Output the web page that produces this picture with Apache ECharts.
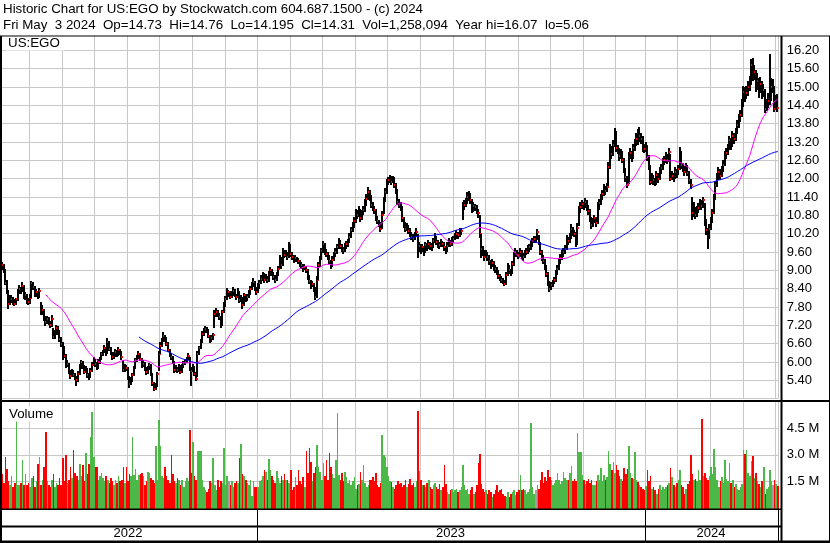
<!DOCTYPE html>
<html><head><meta charset="utf-8">
<script src="https://cdn.jsdelivr.net/npm/echarts@6/dist/echarts.min.js"></script>
<style>html,body{margin:0;padding:0;background:#fff}#c{width:830px;height:543px}</style>
</head><body><div id="c"></div>
<script>
// ---- data ----
const closes = [
9.20,9.16,9.00,8.60,8.34,7.90,8.02,8.07,7.96,7.90,
8.05,8.31,8.40,8.34,8.50,8.12,8.18,8.00,7.95,8.10,
8.58,8.45,8.20,8.28,8.15,8.31,7.61,7.70,7.45,7.31,
7.40,7.31,7.20,7.42,6.82,6.95,7.12,7.00,6.75,6.60,
6.49,6.20,5.89,5.95,5.70,5.53,5.68,5.58,5.50,5.40,
5.62,5.83,6.00,5.85,5.69,5.75,5.57,5.53,5.72,5.90,
6.06,5.95,5.83,6.00,6.12,6.25,6.33,6.45,6.28,6.65,
6.44,6.30,6.16,6.22,6.33,6.25,6.39,6.30,6.16,5.73,
5.85,5.80,5.50,5.27,5.40,5.57,5.80,6.05,6.16,6.27,
6.10,5.89,5.95,5.78,5.67,5.80,5.89,5.60,5.30,5.13,
5.20,5.60,6.27,6.54,6.71,6.85,6.77,6.60,6.40,6.26,
6.15,6.00,5.73,5.80,5.73,5.85,5.68,5.84,5.95,6.00,
6.10,6.20,5.78,5.70,5.85,5.62,5.45,6.27,6.45,6.65,
6.93,7.00,7.09,7.04,6.85,6.70,6.77,6.87,7.58,7.64,
7.55,7.47,7.20,7.64,7.85,8.07,8.29,8.29,8.13,8.20,
8.34,8.20,8.13,8.29,8.02,8.10,7.85,8.18,8.05,8.13,
8.25,8.40,8.55,8.62,8.40,8.29,8.45,8.60,8.73,8.84,
8.70,8.78,8.67,8.85,9.00,8.92,8.78,8.70,8.84,9.05,
9.38,9.16,9.60,9.49,9.55,9.44,9.80,9.55,9.45,9.33,
9.40,9.38,9.30,9.22,9.16,9.05,9.10,9.00,8.80,8.65,
8.50,8.55,8.40,8.13,8.70,9.16,9.38,9.63,9.87,9.60,
9.55,9.44,9.30,9.16,9.35,9.50,9.60,9.75,9.93,9.80,
9.71,9.65,9.77,9.85,9.93,10.10,10.31,10.47,10.60,10.86,
10.80,10.97,10.70,10.85,10.97,11.20,11.35,11.56,11.40,11.15,
11.05,10.97,10.70,10.60,10.53,10.36,10.80,11.29,11.56,11.84,
11.95,12.05,11.90,12.00,11.80,11.62,11.24,11.15,11.07,10.70,
10.50,10.36,10.42,10.30,10.20,10.10,10.04,10.15,10.25,9.65,
9.80,9.65,9.75,9.60,9.82,9.75,9.87,9.80,9.77,9.95,
10.09,9.93,9.85,9.82,9.90,9.87,9.75,9.65,9.80,9.93,
9.85,9.98,10.04,10.10,10.20,10.15,10.25,10.30,11.07,11.15,
11.24,11.40,11.46,11.30,10.97,11.10,11.07,10.95,10.86,10.20,
9.71,9.60,9.44,9.55,9.44,9.30,9.16,9.25,9.11,9.05,
8.95,8.83,8.78,8.70,8.62,8.56,8.85,9.11,9.00,8.92,
9.20,9.49,9.60,9.55,9.49,9.60,9.50,9.44,9.55,9.60,
9.71,9.75,9.82,9.95,10.04,10.04,10.25,9.90,9.60,9.44,
9.30,9.11,8.89,8.60,8.40,8.51,8.60,8.67,8.90,9.05,
9.27,9.40,9.55,9.60,9.71,10.04,9.95,10.09,10.36,10.25,
10.20,9.87,10.40,10.95,11.07,11.18,11.10,11.24,11.05,10.95,
10.70,10.47,10.60,10.70,10.55,11.07,11.20,11.35,11.50,11.67,
11.60,11.73,12.38,12.98,12.80,13.10,13.53,13.00,12.95,12.73,
12.85,12.62,12.30,12.05,11.78,12.73,12.84,12.70,13.00,13.15,
13.31,13.26,13.40,13.30,13.00,12.98,13.05,12.71,12.40,11.90,
12.05,11.95,11.85,12.11,12.00,12.22,12.35,12.54,12.60,12.71,
12.60,12.87,12.00,12.10,12.05,12.22,12.16,12.30,12.87,12.44,
12.35,12.22,12.38,12.20,11.95,11.78,10.86,11.00,10.80,10.97,
11.05,11.18,11.10,11.29,10.58,10.31,10.09,10.36,10.60,10.86,
11.35,11.78,12.05,12.22,12.10,12.27,12.45,12.76,12.85,13.00,
13.25,13.10,13.40,13.30,13.50,13.75,13.96,14.07,14.40,14.84,
14.70,14.80,15.00,15.11,15.71,15.33,15.50,15.00,15.20,14.89,
15.10,14.76,14.89,14.29,14.40,14.55,14.60,15.00,15.00,14.29,
14.40,14.31];
const highs = [
9.30,9.28,9.20,9.05,8.70,8.37,8.20,8.19,8.13,8.06,
8.11,8.39,8.52,8.45,8.62,8.53,8.28,8.23,8.08,8.22,
8.65,8.62,8.50,8.40,8.32,8.41,7.98,7.85,7.75,7.51,
7.50,7.46,7.35,7.54,7.10,7.05,7.22,7.17,7.04,6.81,
6.65,6.53,6.25,6.07,5.98,5.75,5.78,5.73,5.64,5.54,
5.70,5.93,6.08,6.04,5.90,5.87,5.79,5.63,5.80,6.00,
6.16,6.11,5.99,6.10,6.18,6.33,6.40,6.55,6.50,6.80,
6.69,6.49,6.34,6.32,6.41,6.38,6.49,6.43,6.35,6.05,
5.95,5.90,5.83,5.54,5.50,5.65,5.86,6.13,6.24,6.35,
6.31,6.14,6.05,5.99,5.83,5.88,5.96,5.92,5.64,5.36,
5.30,5.68,6.35,6.64,6.79,6.97,6.90,6.81,6.65,6.44,
6.31,6.19,6.03,5.90,5.84,5.93,5.89,5.92,6.03,6.10,
6.18,6.30,6.15,5.83,5.93,5.88,5.66,6.35,6.53,6.75,
7.01,7.10,7.17,7.14,7.08,6.90,6.87,6.95,7.70,7.76,
7.69,7.59,7.50,7.70,7.95,8.17,8.41,8.37,8.33,8.32,
8.44,8.39,8.24,8.41,8.32,8.20,8.13,8.26,8.23,8.23,
8.35,8.50,8.63,8.74,8.66,8.45,8.57,8.70,8.85,8.96,
8.90,8.88,8.83,8.97,9.12,9.05,8.96,8.84,8.94,9.15,
9.50,9.43,9.72,9.65,9.65,9.60,9.93,9.85,9.60,9.49,
9.50,9.45,9.42,9.35,9.28,9.20,9.22,9.14,9.04,8.85,
8.69,8.65,8.59,8.44,8.80,9.26,9.48,9.73,9.97,9.91,
9.70,9.60,9.50,9.34,9.47,9.60,9.72,9.87,10.05,9.98,
9.86,9.76,9.89,9.95,10.03,10.22,10.43,10.59,10.75,11.00,
10.96,11.10,11.02,10.97,11.09,11.32,11.50,11.72,11.64,11.45,
11.23,11.11,11.02,10.78,10.66,10.58,10.95,11.41,11.71,11.99,
12.07,12.12,12.10,12.10,12.05,11.85,11.67,11.34,11.23,11.12,
10.76,10.58,10.54,10.48,10.38,10.26,10.18,10.27,10.37,10.20,
9.92,9.86,9.87,9.80,9.94,9.88,9.99,9.93,9.88,10.07,
10.21,10.14,9.99,9.93,10.02,9.96,9.92,9.81,9.92,10.05,
9.99,10.10,10.14,10.22,10.32,10.26,10.37,10.40,11.22,11.30,
11.36,11.55,11.58,11.52,11.35,11.22,11.18,11.13,11.01,10.80,
10.20,9.79,9.65,9.67,9.60,9.49,9.35,9.37,9.30,9.17,
9.11,9.00,8.89,8.83,8.76,8.67,8.95,9.23,9.16,9.06,
9.30,9.61,9.72,9.65,9.61,9.72,9.65,9.56,9.65,9.72,
9.83,9.85,9.97,10.07,10.14,10.12,10.35,10.15,9.94,9.65,
9.49,9.36,9.16,8.95,8.65,8.63,8.70,8.77,9.02,9.17,
9.37,9.52,9.67,9.72,9.83,10.16,10.10,10.21,10.50,10.42,
10.33,10.25,10.55,11.10,11.22,11.30,11.24,11.38,11.30,11.13,
11.00,10.76,10.72,10.82,10.76,11.22,11.32,11.49,11.64,11.81,
11.75,11.87,12.53,13.13,13.06,13.25,13.65,13.55,13.10,13.01,
12.97,12.90,12.68,12.35,12.10,12.88,12.99,12.90,13.15,13.30,
13.51,13.61,13.70,13.50,13.38,13.12,13.20,13.10,12.76,12.45,
12.20,12.13,12.03,12.26,12.19,12.37,12.47,12.69,12.75,12.86,
12.81,12.99,12.80,12.25,12.18,12.37,12.32,12.44,13.02,12.92,
12.52,12.41,12.50,12.44,12.25,12.00,11.40,11.25,11.08,11.12,
11.20,11.32,11.30,11.41,11.20,10.68,10.39,10.51,10.75,11.01,
11.50,11.93,12.20,12.37,12.30,12.42,12.60,12.91,13.00,13.15,
13.40,13.33,13.55,13.50,13.65,13.93,14.11,14.25,14.60,15.04,
14.99,15.02,15.20,15.36,15.91,15.95,15.72,15.55,15.45,15.28,
15.32,15.18,15.09,14.94,14.60,14.80,16.07,15.30,15.25,15.02,
14.75,14.76];
const lows = [
9.08,9.02,8.90,8.52,8.22,7.75,7.85,7.92,7.88,7.82,
7.85,8.01,8.22,8.24,8.29,8.05,8.04,7.90,7.86,7.91,
8.08,8.35,8.12,8.14,8.05,8.10,7.55,7.55,7.35,7.19,
7.26,7.22,7.10,7.16,6.75,6.75,6.90,6.90,6.67,6.50,
6.05,6.12,5.79,5.83,5.62,5.43,5.50,5.50,5.40,5.22,
5.35,5.58,5.77,5.77,5.60,5.64,5.47,5.41,5.49,5.67,
5.86,5.85,5.75,5.78,5.95,6.08,6.19,6.28,6.20,6.25,
6.36,6.22,6.07,6.11,6.18,6.17,6.21,6.22,6.06,5.68,
5.68,5.72,5.42,5.15,5.24,5.35,5.53,5.77,6.00,6.10,
6.03,5.81,5.84,5.70,5.58,5.62,5.75,5.54,5.22,5.06,
5.10,5.18,5.70,6.25,6.48,6.66,6.67,6.52,6.32,6.16,
6.07,5.92,5.65,5.68,5.64,5.69,5.60,5.64,5.79,5.89,
5.96,6.05,5.70,5.23,5.66,5.54,5.37,5.50,6.22,6.41,
6.63,6.85,6.94,6.94,6.77,6.62,6.66,6.73,7.10,7.48,
7.47,7.39,7.12,7.17,7.60,7.81,8.02,8.14,8.05,8.08,
8.16,8.12,8.04,8.09,7.94,7.97,7.75,7.82,7.96,8.01,
8.08,8.20,8.35,8.47,8.32,8.19,8.25,8.40,8.55,8.65,
8.60,8.65,8.57,8.63,8.80,8.82,8.68,8.60,8.66,8.80,
9.03,9.06,9.14,9.39,9.44,9.34,9.42,9.45,9.35,9.23,
9.28,9.28,9.20,9.12,9.06,8.95,9.00,8.90,8.70,8.55,
8.40,8.45,8.30,8.02,8.10,8.68,9.11,9.34,9.58,9.50,
9.45,9.34,9.20,9.04,9.12,9.30,9.45,9.55,9.70,9.70,
9.61,9.53,9.60,9.71,9.77,9.88,10.05,10.25,10.39,10.55,
10.68,10.74,10.58,10.65,10.80,10.92,11.12,11.30,11.28,11.03,
10.93,10.85,10.60,10.50,10.41,10.26,10.34,10.85,11.24,11.51,
11.78,11.85,11.78,11.85,11.68,11.50,11.14,11.03,10.93,10.58,
10.38,10.26,10.30,10.20,10.10,10.00,9.92,9.99,10.10,9.40,
9.60,9.55,9.60,9.48,9.56,9.63,9.69,9.68,9.63,9.72,
9.90,9.83,9.73,9.70,9.76,9.75,9.63,9.52,9.60,9.75,
9.75,9.80,9.90,9.98,10.04,10.03,10.09,10.17,10.65,10.97,
11.07,11.18,11.28,11.18,10.87,10.91,10.93,10.83,10.72,10.05,
9.40,9.48,9.32,9.39,9.32,9.18,9.04,9.11,8.99,8.91,
8.85,8.73,8.66,8.60,8.54,8.48,8.52,8.80,8.88,8.80,
8.88,9.15,9.43,9.43,9.37,9.44,9.38,9.32,9.39,9.49,
9.55,9.61,9.67,9.77,9.89,9.90,10.00,9.82,9.50,9.32,
9.20,9.01,8.79,8.50,8.29,8.35,8.45,8.54,8.62,8.84,
9.00,9.22,9.34,9.45,9.54,9.66,9.83,9.90,10.03,10.13,
10.08,9.75,9.84,10.45,10.87,11.01,10.96,11.05,10.93,10.81,
10.58,10.35,10.42,10.54,10.43,10.53,10.99,11.15,11.29,11.44,
11.48,11.55,11.75,12.33,12.65,12.75,13.05,12.88,12.80,12.58,
12.65,12.50,12.18,11.90,11.68,11.83,12.63,12.55,12.65,12.90,
13.07,13.11,13.21,13.12,12.88,12.83,12.88,12.59,12.28,11.78,
11.82,11.80,11.75,11.80,11.85,11.94,12.14,12.29,12.44,12.52,
12.48,12.55,11.92,11.94,11.90,12.00,12.02,12.11,12.27,12.32,
12.23,12.10,12.17,12.08,11.83,11.66,10.66,10.76,10.68,10.75,
10.89,10.99,10.98,11.05,10.46,10.16,9.71,10.04,10.31,10.54,
10.84,11.30,11.72,11.97,11.95,12.05,12.21,12.40,12.64,12.79,
12.95,12.95,13.04,13.12,13.24,13.45,13.67,13.86,14.02,14.35,
14.50,14.60,14.72,14.88,15.06,15.18,15.23,14.82,14.90,14.64,
14.79,14.61,14.68,14.14,14.21,14.30,14.40,14.55,14.80,14.19,
14.24,14.195];
// daily volume, millions of shares
const volumeM = [
2.3,1.9,1.4,2.9,2.2,1.5,1.3,1.8,1.2,1.4,
4.9,1.3,1.3,1.4,2.7,1.3,1.9,1.3,1.4,1.2,
1.7,1.8,1.2,1.5,2.5,2.9,1.3,1.6,2.3,4.3,
1.5,1.3,1.2,1.6,1.9,1.2,1.4,1.3,1.7,1.3,
2.8,1.5,3.0,1.4,1.6,2.3,1.7,3.3,2.0,1.8,
1.6,2.5,1.8,2.4,1.5,3.1,1.9,2.5,4.0,5.4,
2.9,2.3,2.3,1.6,1.8,2.0,1.7,1.5,1.8,1.6,
1.4,1.7,1.5,1.3,1.6,1.4,1.8,1.5,1.6,2.3,
1.4,2.3,1.5,1.9,1.8,4.0,1.85,2.2,1.6,1.85,
1.9,2.0,1.8,1.3,1.5,2.05,2.0,1.7,1.6,1.4,
3.5,1.6,4.95,3.5,1.8,1.7,2.3,1.8,1.6,1.4,
3.0,1.9,1.5,1.4,1.7,1.6,1.3,1.6,1.2,1.5,
1.7,1.5,4.4,2.0,3.7,1.8,1.6,3.2,3.2,3.2,
1.6,1.2,1.0,0.9,1.1,1.5,1.4,2.8,1.3,1.0,
1.6,1.2,1.5,1.4,3.4,1.3,1.8,1.5,1.3,1.5,
1.2,1.4,1.5,1.4,2.8,3.6,1.9,1.8,1.6,1.4,
1.3,1.6,0.7,1.5,1.2,1.2,1.2,1.5,1.6,1.8,
2.14,2.05,1.6,2.77,2.14,1.8,1.6,1.4,2.1,1.7,
1.4,1.8,1.6,1.9,1.6,1.57,1.4,2.14,1.0,1.2,
1.76,1.3,2.14,1.5,1.38,1.76,1.2,3.19,2.0,3.38,
2.62,1.5,2.0,2.3,3.58,2.33,2.05,1.57,2.52,1.8,
2.72,1.6,3.1,2.33,1.9,1.7,2.72,5.35,1.85,1.6,
1.95,1.5,2.05,1.76,1.4,1.57,1.28,1.5,1.76,1.09,
1.3,1.38,2.05,1.6,2.43,1.4,1.19,1.3,1.57,1.6,
1.76,1.5,1.95,1.3,1.19,1.4,4.1,3.0,2.9,2.33,
1.8,1.5,1.47,1.2,1.09,1.3,1.5,1.38,1.4,1.19,
1.3,1.57,1.2,1.38,1.66,1.3,1.4,1.2,1.5,5.5,
2.1,1.6,1.28,1.3,1.19,1.4,1.57,1.2,1.09,1.28,
1.4,1.19,1.1,1.38,1.0,1.19,2.43,1.38,0.9,0.8,
1.0,1.09,0.9,0.99,1.1,0.9,1.0,1.2,2.41,1.3,
0.99,1.1,0.8,0.99,1.2,0.8,0.9,1.3,2.56,3.06,
1.38,1.1,0.9,1.0,0.8,0.99,0.9,0.61,0.8,0.99,
1.28,0.9,0.99,1.1,0.8,0.7,0.61,0.9,0.61,0.8,
0.9,1.0,0.71,0.9,1.0,1.85,0.99,1.09,1.0,0.8,
0.9,1.1,4.78,1.2,0.8,0.99,1.3,1.1,1.57,2.05,
1.4,1.76,1.5,2.14,1.76,1.6,1.28,1.4,1.57,1.95,
1.6,1.38,1.5,2.05,1.7,1.57,1.6,1.95,2.37,1.5,
1.66,1.5,4.21,3.14,3.14,1.85,1.6,1.38,1.5,1.66,
1.4,1.57,1.3,1.28,1.5,1.85,1.6,2.24,1.5,1.85,
1.6,1.76,3.23,2.5,2.14,2.62,2.0,2.43,2.14,1.8,
1.66,1.5,2.24,1.9,2.2,3.52,1.95,1.7,1.66,3.14,
1.6,1.47,1.3,1.19,1.1,0.99,1.22,2.14,1.5,1.8,
1.09,1.2,0.99,0.8,1.1,1.28,1.0,1.19,1.1,1.19,
1.28,1.4,2.24,1.76,1.3,1.19,1.4,1.57,2.14,1.3,
1.19,0.8,1.1,1.38,1.5,3.0,1.9,1.57,1.66,1.5,
2.14,1.6,5.0,1.8,1.95,1.7,1.57,1.8,2.33,1.9,
3.33,2.33,1.6,1.19,1.5,1.76,1.4,2.72,1.66,1.5,
2.52,1.4,1.57,1.2,1.38,1.1,0.99,1.2,1.38,3.25,
3.06,3.29,2.0,1.8,2.68,2.91,1.7,1.95,1.5,1.38,
1.2,1.5,2.33,0.8,1.1,1.19,2.14,1.5,1.28,1.6,
1.38,1.26];
const firstDay = '2022-05-05', lastDay = '2024-05-03';
const holidays = ['2022-05-30','2022-06-20','2022-07-04','2022-09-05','2022-11-24','2022-12-26',
 '2023-01-02','2023-01-16','2023-02-20','2023-04-07','2023-05-29','2023-06-19','2023-07-04',
 '2023-09-04','2023-11-23','2023-12-25','2024-01-01','2024-01-15','2024-02-19','2024-03-29'];
const maShort = 30, maLong = 90;
const title1 = 'Historic Chart for US:EGO by Stockwatch.com 604.687.1500 - (c) 2024';
const title2 = 'Fri May  3 2024  Op=14.73  Hi=14.76  Lo=14.195  Cl=14.31  Vol=1,258,094  Year hi=16.07  lo=5.06';

// ---- derived ----
function tradingDays(start, end, hol) {
  const out = [], h = new Set(hol);
  let t = Date.parse(start + 'T00:00:00Z'); const e = Date.parse(end + 'T00:00:00Z');
  while (t <= e) { const d = new Date(t); const w = d.getUTCDay(); const s = d.toISOString().slice(0, 10);
    if (w !== 0 && w !== 6 && !h.has(s)) out.push(s); t += 86400000; }
  return out;
}
const dates = tradingDays(firstDay, lastDay, holidays);
const N = closes.length;
const cats = dates.slice(0, N);
const yearBounds = [];
cats.forEach((d, i) => { if (i > 0 && d.slice(0, 4) !== cats[i - 1].slice(0, 4)) yearBounds.push(i); });
const vGrid = new Set();
for (let i = yearBounds[0]; i >= 0; i -= 21) vGrid.add(i);
const segs = [0].concat(yearBounds, [N]);
for (let k = 1; k < segs.length - 1; k++) for (let i = segs[k]; i < segs[k + 1]; i += 21) vGrid.add(i);
const yearMids = [];
for (let k = 0; k < segs.length - 1; k++) yearMids.push(Math.floor((segs[k] + segs[k + 1] - 1) / 2));
function sma(n) { const r = []; let s = 0;
  for (let i = 0; i < N; i++) { s += closes[i]; if (i >= n) s -= closes[i - n]; r.push(i >= n - 1 ? +(s / n).toFixed(4) : null); }
  return r; }
const hlc = closes.map((c, i) => [i, c, highs[i], lows[i]]);
const vol = volumeM.map((v, i) => [i, v, i === 0 ? -1 : Math.sign(closes[i] - closes[i - 1])]);

const FONT = '"Liberation Sans", Arial, Helvetica, sans-serif';
const GRID = '#c8c8c8';
const chart = echarts.init(document.getElementById('c'), null, { renderer: 'canvas', width: 830, height: 543 });
const frameRects = [
  [0, 35.5, 830, 1], [0, 36, 2, 506], [780.5, 36, 2, 506], [829, 36, 1, 507],
  [0, 400, 830, 2], [0, 508.5, 782, 1.5], [0, 525.5, 782, 2], [0, 540.5, 830, 2.5]
];
const catX = (gi, extra) => Object.assign({
  type: 'category', gridIndex: gi, data: cats, boundaryGap: true,
  axisLine: { show: false }, axisTick: { show: false }, axisLabel: { show: false },
  splitLine: { show: true, interval: (i) => vGrid.has(i), lineStyle: { color: GRID, width: 1 } }
}, extra || {});
const lblStyle = { color: '#000', fontSize: 13, fontFamily: FONT };

chart.setOption({
  animation: false,
  backgroundColor: '#fff',
  grid: [
    { left: 0, right: 51.5, top: 31.96, height: 366.74 },
    { left: 0, right: 51.5, top: 401.7, height: 106.3 },
    { left: 0, right: 51.5, top: 510, height: 31 }
  ],
  xAxis: [
    catX(0), catX(1),
    catX(2, {
      splitLine: { show: true, interval: (i) => yearBounds.includes(i), lineStyle: { color: '#000', width: 1 } },
      axisLabel: Object.assign({ show: true, interval: (i) => yearMids.includes(i), formatter: (v) => v.slice(0, 4), margin: -14 }, lblStyle)
    })
  ],
  yAxis: [
    { type: 'value', gridIndex: 0, position: 'right', min: 4.8, max: 16.8, interval: 0.6,
      axisLine: { show: false }, axisTick: { show: false },
      splitLine: { show: true, lineStyle: { color: GRID, width: 1 } },
      axisLabel: Object.assign({ margin: 8.2, padding: [0, 0, 4, 0], formatter: (v) => (v < 5 || v > 16.5) ? '' : v.toFixed(2) }, lblStyle) },
    { type: 'value', gridIndex: 1, position: 'right', min: 0, max: 6, interval: 1.5,
      axisLine: { show: false }, axisTick: { show: false },
      splitLine: { show: true, lineStyle: { color: GRID, width: 1 } },
      axisLabel: Object.assign({ margin: 8.2, formatter: (v) => (v <= 0 || v >= 6) ? '' : v.toFixed(1) + ' M' }, lblStyle) },
    { type: 'value', gridIndex: 2, show: false }
  ],
  series: [
    { type: 'custom', xAxisIndex: 0, yAxisIndex: 0, data: hlc, encode: { x: 0, y: [1, 2, 3] }, z: 3,
      renderItem: (params, api) => {
        const i = api.value(0);
        const pH = api.coord([i, api.value(2)]), pL = api.coord([i, api.value(3)]), pC = api.coord([i, api.value(1)]);
        const bx = Math.floor(pH[0] - 0.8), top = Math.round(pH[1]), bot = Math.round(pL[1]);
        return { type: 'group', children: [
          { type: 'rect', shape: { x: bx, y: top, width: 2, height: Math.max(1, bot - top) }, style: { fill: '#000' } },
          { type: 'rect', shape: { x: bx + 1, y: Math.round(pC[1]) - 1, width: 2, height: 2 }, style: { fill: '#ff0000' } }
        ] };
      } },
    { type: 'line', xAxisIndex: 0, yAxisIndex: 0, data: sma(maShort), showSymbol: false, z: 4,
      lineStyle: { color: '#ff00ff', width: 1 }, itemStyle: { color: '#ff00ff' } },
    { type: 'line', xAxisIndex: 0, yAxisIndex: 0, data: sma(maLong), showSymbol: false, z: 4,
      lineStyle: { color: '#0000ff', width: 1 }, itemStyle: { color: '#0000ff' } },
    { type: 'custom', xAxisIndex: 1, yAxisIndex: 1, data: vol, encode: { x: 0, y: 1 }, z: 3,
      renderItem: (params, api) => {
        const i = api.value(0), f = api.value(2);
        const p = api.coord([i, api.value(1)]), p0 = api.coord([i, 0]);
        const l = Math.round(p[0] - 0.78), r = Math.round(p[0] + 0.78);
        const top = Math.round(p[1]);
        return { type: 'rect', shape: { x: l, y: top, width: Math.max(1, r - l), height: Math.round(p0[1]) - top + 1 },
          style: { fill: f > 0 ? '#4cb848' : (f < 0 ? '#ff0000' : '#a0a0a0') } };
      } }
  ],
  graphic: [
    { type: 'rect', shape: { x: 0, y: 0, width: 830, height: 35.5 }, style: { fill: '#fff' }, z: 100 },
    { type: 'text', x: 3, y: 9, z: 101, style: { text: title1, fontSize: 13.33, fontFamily: FONT, fill: '#000', verticalAlign: 'middle' } },
    { type: 'text', x: 3, y: 25, z: 101, style: { text: title2, fontSize: 13.33, fontFamily: FONT, fill: '#000', verticalAlign: 'middle' } },
    { type: 'text', x: 6, y: 43, z: 101, style: { text: 'US:EGO', fontSize: 13.33, fontFamily: FONT, fill: '#000', verticalAlign: 'middle', backgroundColor: '#fff', padding: [1, 4, 1, 2] } },
    { type: 'text', x: 7, y: 414, z: 101, style: { text: 'Volume', fontSize: 13.33, fontFamily: FONT, fill: '#000', verticalAlign: 'middle', backgroundColor: '#fff', padding: [1, 4, 1, 2] } }
  ].concat(frameRects.map(r => ({ type: 'rect', z: 102, shape: { x: r[0], y: r[1], width: r[2], height: r[3] }, style: { fill: '#000' } })))
});
</script></body></html>
